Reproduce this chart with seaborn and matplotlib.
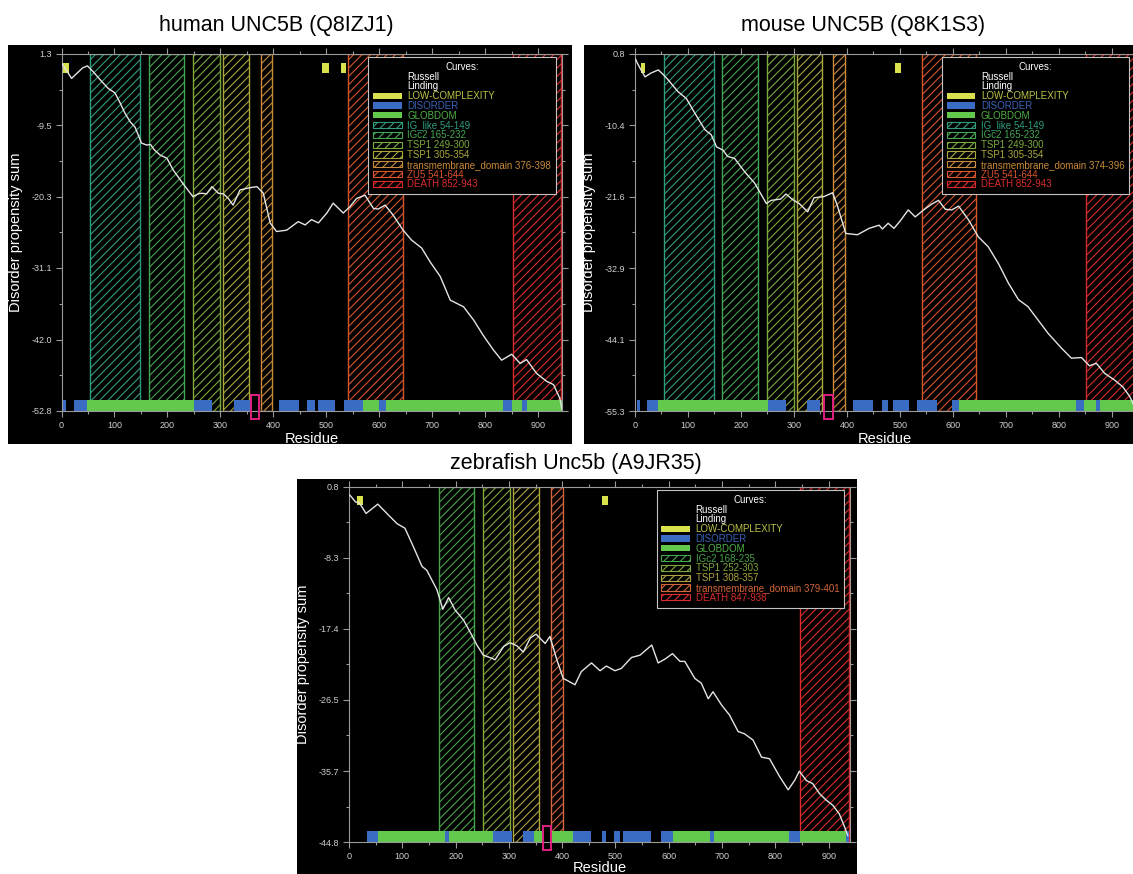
import numpy as np
import matplotlib
matplotlib.use("Agg")
import matplotlib.pyplot as plt
import seaborn as sns
from matplotlib.patches import Patch, Rectangle
from matplotlib.lines import Line2D
from matplotlib.ticker import MultipleLocator, FixedLocator

# ---------------------------------------------------------------- data
# cumulative disorder propensity (Russell/Linding) along each sequence
human_res = [1, 8, 19, 32, 40, 49, 60, 73, 88, 101, 110, 120, 130, 139, 151, 161, 168,
             175, 186, 199, 211, 229, 248, 258, 265, 274, 284, 296, 306, 315, 324, 337,
             353, 369, 381, 394, 406, 425, 447, 460, 472, 485, 501, 513, 532, 545, 557,
             573, 589, 598, 611, 626, 645, 661, 680, 696, 715, 734, 759, 778, 796, 815,
             831, 850, 866, 878, 897, 916, 929, 941, 945]
human_val = [-0.2, -1.0, -2.4, -1.4, -0.8, -0.5, -1.4, -2.6, -3.9, -4.6, -6.0, -7.7, -9.0,
             -9.8, -12.2, -12.5, -12.4, -13.2, -14.0, -14.5, -16.3, -18.3, -20.3, -19.9,
             -19.8, -19.9, -18.8, -19.8, -19.9, -20.6, -21.6, -19.3, -19.0, -18.8, -19.8,
             -24.3, -25.6, -25.4, -24.1, -24.6, -23.8, -24.3, -22.8, -21.3, -22.8, -21.8,
             -20.6, -20.1, -22.1, -22.2, -21.6, -23.1, -25.4, -26.9, -28.1, -30.2, -32.4,
             -36.0, -37.0, -39.0, -41.3, -43.5, -45.1, -44.2, -45.6, -45.0, -47.1, -48.3,
             -48.8, -50.9, -52.6]

mouse_res = [1, 3, 10, 19, 30, 44, 53, 63, 81, 97, 113, 132, 144, 154, 166, 175, 188, 207,
             226, 248, 257, 266, 275, 285, 298, 310, 326, 338, 357, 373, 382, 398, 420,
             442, 461, 467, 478, 489, 501, 516, 529, 545, 560, 573, 586, 598, 611, 630,
             648, 667, 686, 705, 724, 742, 761, 780, 805, 824, 843, 858, 871, 887, 905,
             921, 934, 945]
mouse_val = [0.0, -0.4, -1.5, -2.8, -2.2, -1.7, -2.4, -3.3, -5.1, -6.2, -8.5, -11.1, -11.9,
             -13.8, -14.3, -15.3, -15.6, -17.7, -19.5, -22.7, -22.2, -22.1, -22.0, -21.2,
             -22.1, -22.7, -24.0, -21.8, -21.6, -21.0, -23.0, -27.4, -27.6, -26.6, -26.1,
             -26.7, -25.8, -26.6, -25.4, -23.7, -24.8, -23.7, -22.8, -22.2, -23.6, -23.7,
             -23.1, -25.3, -27.9, -29.5, -32.1, -35.2, -37.8, -38.9, -41.0, -43.1, -45.4,
             -47.0, -46.9, -48.2, -47.8, -49.4, -50.4, -51.5, -53.0, -55.0]

zfish_res = [1, 6, 12, 20, 32, 43, 54, 74, 90, 105, 121, 137, 146, 165, 176, 187, 199, 215,
             227, 240, 252, 268, 274, 290, 302, 315, 327, 340, 351, 368, 377, 390, 402, 408,
             424, 436, 455, 471, 483, 499, 511, 530, 546, 568, 580, 593, 607, 621, 630,
             649, 661, 674, 683, 699, 714, 730, 742, 758, 774, 789, 808, 824, 836, 845,
             858, 870, 883, 895, 908, 920, 930, 936]
zfish_val = [-0.2, -0.6, -1.1, -1.3, -2.6, -2.0, -1.4, -2.8, -3.9, -4.5, -6.9, -9.4, -9.9,
             -12.4, -14.9, -13.4, -15.0, -16.3, -17.8, -19.5, -20.8, -21.2, -21.4, -19.7,
             -19.2, -19.6, -20.4, -18.6, -18.1, -19.3, -18.4, -21.4, -23.8, -24.0, -24.6,
             -22.9, -21.8, -22.8, -22.2, -22.8, -22.5, -21.1, -20.8, -19.5, -21.8, -21.3,
             -20.6, -21.6, -21.6, -23.8, -24.4, -26.4, -25.5, -27.2, -28.5, -30.6, -30.9,
             -31.7, -33.9, -34.1, -36.4, -38.1, -36.9, -35.7, -36.9, -37.3, -38.6, -39.4,
             -40.1, -41.2, -42.9, -44.0]

# y tick labels of each panel
human_yticks = [-52.8, -42.0, -31.1, -20.3, -9.5, 1.3]
mouse_yticks = [-55.3, -44.1, -32.9, -21.6, -10.4, 0.8]
zfish_yticks = [-44.8, -35.7, -26.5, -17.4, -8.3, 0.8]
x_ticks = [0, 100, 200, 300, 400, 500, 600, 700, 800, 900]

# sequence lengths
human_len, mouse_len, zfish_len = 945, 945, 940

# domain annotations: name, start, end
human_dom_names = ["IG_like", "IGc2", "TSP1", "TSP1", "transmembrane_domain", "ZU5", "DEATH"]
human_dom_start = [54, 165, 249, 305, 376, 541, 852]
human_dom_end = [149, 232, 300, 354, 398, 644, 943]

mouse_dom_names = ["IG_like", "IGc2", "TSP1", "TSP1", "transmembrane_domain", "ZU5", "DEATH"]
mouse_dom_start = [54, 165, 249, 305, 374, 541, 852]
mouse_dom_end = [149, 232, 300, 354, 396, 644, 943]

zfish_dom_names = ["IGc2", "TSP1", "TSP1", "transmembrane_domain", "DEATH"]
zfish_dom_start = [168, 252, 308, 379, 847]
zfish_dom_end = [235, 303, 357, 401, 938]

# low-complexity, disorder and globular-domain segments
human_lowc = [(0, 15), (492, 505), (528, 537)]
human_disorder = [(0, 9), (23, 48), (251, 285), (326, 358), (410, 449), (464, 479),
                  (485, 517), (534, 569), (600, 613), (834, 850), (869, 879)]
human_globdom = [(48, 251), (569, 600), (613, 834), (850, 869), (879, 945)]
human_mark = (357, 372)

mouse_lowc = [(11, 18), (491, 503)]
mouse_disorder = [(3, 10), (23, 44), (251, 285), (325, 350), (411, 450), (466, 478),
                  (487, 518), (532, 571), (599, 612), (833, 847), (870, 878)]
mouse_globdom = [(44, 251), (612, 833), (847, 870), (878, 945)]
mouse_mark = (357, 374)

zfish_lowc = [(15, 26), (474, 486)]
zfish_disorder = [(34, 54), (180, 188), (270, 305), (326, 348), (421, 454), (474, 483),
                  (498, 509), (515, 567), (585, 607), (677, 684), (825, 847), (932, 938)]
zfish_globdom = [(54, 180), (188, 270), (348, 364), (379, 421), (607, 677), (684, 825),
                 (847, 932)]
zfish_mark = (364, 379)

# ---------------------------------------------------------------- style
sns.set_style("ticks")
plt.rcParams["font.family"] = ["Liberation Sans", "DejaVu Sans"]
plt.rcParams["hatch.linewidth"] = 0.8

YELLOW, BLUE, GREEN = "#d9e24c", "#3b6cc4", "#62c94c"
YELLOW_TXT, BLUE_TXT, GREEN_TXT = "#bcc447", "#3862b8", "#4fb045"
SPINE, TICKLBL = "#9a9a9a", "#cfcfcf"
CURVE = "#e4e4e4"
MARK = "#e0207f"

human_dom_colors = ["#2f9d7f", "#44a653", "#7ca93b", "#aaa83d", "#c98a3a", "#d9552c", "#dc2b2b"]
mouse_dom_colors = human_dom_colors
zfish_dom_colors = ["#47a34a", "#80a63c", "#aea33e", "#d2653a", "#dc2b2b"]

W, H = 1133, 874
fig = plt.figure(figsize=(W / 100, H / 100), dpi=100)
fig.patch.set_facecolor("white")


def fbox(x0, y0, x1, y1):
    """pixel box (top-left origin) -> figure fraction rectangle"""
    return [x0 / W, 1 - y1 / H, (x1 - x0) / W, (y1 - y0) / H]


def panel_bg(x0, y0, x1, y1):
    l, b, w, h = fbox(x0, y0, x1, y1)
    fig.add_artist(Rectangle((l, b), w, h, transform=fig.transFigure,
                             facecolor="black", edgecolor="none", zorder=0))


def draw_panel(ax, res, val, yticks, length, names, starts, ends, colors,
               lowc, disorder, globdom, mark, xlabelpad=1.5):
    ax.set_facecolor("black")
    ax.set_zorder(1)
    ymin, ymax = yticks[0], yticks[-1]

    # domain regions (hatched, full height)
    for s, e, c in zip(starts, ends, colors):
        ax.axvspan(s, e, facecolor="none", edgecolor=c, hatch="////", lw=1.0, zorder=1)

    # segment bars along the bottom and low-complexity blocks near the top
    for s, e in disorder:
        ax.axvspan(s, e, ymin=0.0, ymax=0.032, facecolor=BLUE, lw=0, zorder=2)
    for s, e in globdom:
        ax.axvspan(s, e, ymin=0.0, ymax=0.032, facecolor=GREEN, lw=0, zorder=2)
    for s, e in lowc:
        ax.axvspan(s, e, ymin=0.948, ymax=0.976, facecolor=YELLOW, lw=0, zorder=2)

    ax.add_patch(Rectangle((mark[0], -0.022), mark[1] - mark[0], 0.068,
                           transform=ax.get_xaxis_transform(), fill=False,
                           edgecolor=MARK, lw=1.4, clip_on=False, zorder=6))

    sns.lineplot(x=res, y=val, ax=ax, color=CURVE, linewidth=1.0, zorder=4,
                 legend=False)

    ax.set_xlim(0, length)
    ax.set_ylim(ymin, ymax)
    ax.set_xticks(x_ticks)
    ax.set_xticklabels([str(t) for t in x_ticks])
    ax.xaxis.set_minor_locator(MultipleLocator(50))
    ax.set_yticks(yticks)
    ax.set_yticklabels([f"{v:.1f}" for v in yticks])
    ax.yaxis.set_minor_locator(FixedLocator([(a + b) / 2 for a, b in zip(yticks[:-1], yticks[1:])]))
    ax.tick_params(which="both", direction="out", color=SPINE, labelcolor=TICKLBL,
                   labelsize=6.5, top=True, right=True, width=0.8)
    ax.tick_params(which="major", length=4, pad=3)
    ax.tick_params(which="minor", length=2.5)
    for sp in ax.spines.values():
        sp.set_color(SPINE)
        sp.set_linewidth(0.8)
    ax.set_xlabel("Residue", color="white", fontsize=10.5, labelpad=xlabelpad)
    ax.set_ylabel("Disorder propensity sum", color="white", fontsize=10.5, labelpad=6)

    # legend
    handles = [Line2D([], [], color="black", lw=1.2), Line2D([], [], color="black", lw=1.2),
               Patch(facecolor=YELLOW, edgecolor="none"),
               Patch(facecolor=BLUE, edgecolor="none"),
               Patch(facecolor=GREEN, edgecolor="none")]
    labels = ["Russell", "Linding", "LOW-COMPLEXITY", "DISORDER", "GLOBDOM"]
    txt_colors = ["white", "white", YELLOW_TXT, BLUE_TXT, GREEN_TXT]
    for n, s, e, c in zip(names, starts, ends, colors):
        handles.append(Patch(facecolor="none", edgecolor=c, hatch="////", lw=0.8))
        labels.append(f"{n} {s}-{e}")
        txt_colors.append(c)
    leg = ax.legend(handles, labels, title="Curves:", loc="upper right",
                    bbox_to_anchor=(0.988, 0.992), borderaxespad=0, fontsize=7,
                    title_fontsize=7, labelspacing=-0.02, handlelength=2.9,
                    handleheight=0.6, handletextpad=0.6, borderpad=0.5,
                    fancybox=False, framealpha=1, facecolor="black",
                    edgecolor="#c4c4c4")
    leg.get_frame().set_linewidth(0.8)
    leg.get_title().set_color("white")
    for t, c in zip(leg.get_texts(), txt_colors):
        t.set_color(c)
    leg.set_zorder(10)


# panel backgrounds
panel_bg(8, 45, 572, 444)
panel_bg(584, 45, 1140, 444)
panel_bg(297, 479, 857, 880)

ax_h = fig.add_axes(fbox(61.5, 54, 562, 411))
ax_m = fig.add_axes(fbox(635, 54, 1135.5, 411))
ax_z = fig.add_axes(fbox(349, 487, 850, 842))

draw_panel(ax_h, human_res, human_val, human_yticks, human_len, human_dom_names,
           human_dom_start, human_dom_end, human_dom_colors,
           human_lowc, human_disorder, human_globdom, human_mark)
draw_panel(ax_m, mouse_res, mouse_val, mouse_yticks, mouse_len, mouse_dom_names,
           mouse_dom_start, mouse_dom_end, mouse_dom_colors,
           mouse_lowc, mouse_disorder, mouse_globdom, mouse_mark)
draw_panel(ax_z, zfish_res, zfish_val, zfish_yticks, zfish_len, zfish_dom_names,
           zfish_dom_start, zfish_dom_end, zfish_dom_colors,
           zfish_lowc, zfish_disorder, zfish_globdom, zfish_mark, xlabelpad=0)

# panel titles
fig.text(276 / W, 1 - 25 / H, "human UNC5B (Q8IZJ1)", ha="center", va="center",
         fontsize=15.5, color="black")
fig.text(863 / W, 1 - 25 / H, "mouse UNC5B (Q8K1S3)", ha="center", va="center",
         fontsize=15.5, color="black")
fig.text(576 / W, 1 - 463 / H, "zebrafish Unc5b (A9JR35)", ha="center", va="center",
         fontsize=15.5, color="black")

fig.savefig("out.png", dpi=100, facecolor="white")
